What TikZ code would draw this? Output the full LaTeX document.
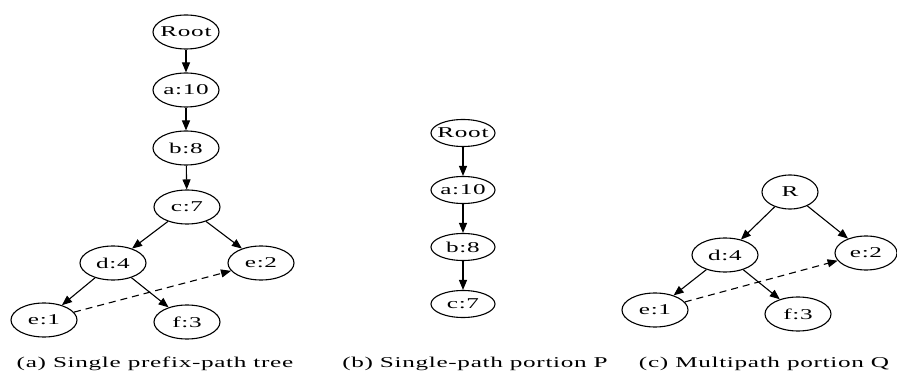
\documentclass[tikz,border=0pt]{standalone}
\usepackage{fontspec}
\setmainfont{Liberation Serif}
\newfontfamily\wideserif[FakeStretch=1.68,LetterSpace=4.5]{Liberation Serif}
\usetikzlibrary{arrows.meta,shapes.geometric}

\tikzset{
  fp_node/.style={draw, ellipse, line width=1.1pt, minimum width=66pt, minimum height=34pt,
      inner xsep=-16pt, inner ysep=0pt, font=\wideserif\fontsize{15}{15}\selectfont},
  fp_flat/.style={fp_node, minimum width=64pt, minimum height=27pt},
  fp_edge/.style={line width=1.1pt, -{Triangle[length=10pt,width=8pt]}},
  fp_link/.style={fp_edge, dash pattern=on 7pt off 5pt},
  fp_caption/.style={anchor=base, inner sep=0pt, font=\wideserif\fontsize{15}{15}\selectfont}
}

\begin{document}
\begin{tikzpicture}[x=1pt,y=-1pt]
  \useasboundingbox (0,0) rectangle (897,371);
  % (a) single prefix-path tree
  \node[fp_node] (ta_root) at (186,32) {Root};
  \node[fp_node] (ta_a) at (186,90) {a:10};
  \node[fp_node] (ta_b) at (186,148) {b:8};
  \node[fp_node] (ta_c) at (187,207) {c:7};
  \node[fp_node] (ta_d) at (113,263) {d:4};
  \node[fp_node] (ta_e2) at (261,263) {e:2};
  \node[fp_node] (ta_e1) at (44,320) {e:1};
  \node[fp_node] (ta_f) at (187,322) {f:3};
  \foreach \u/\v in {ta_root/ta_a, ta_a/ta_b, ta_b/ta_c, ta_c/ta_d,
                     ta_c/ta_e2, ta_d/ta_e1, ta_d/ta_f}
    \draw[fp_edge] (\u) -- (\v);
  \draw[fp_link] (ta_e1) -- (ta_e2);
  \node[fp_caption] (cap_a) at (155,367) {(a) Single prefix-path tree};

  % (b) single-path portion P
  \node[fp_flat] (tb_root) at (463,133) {Root};
  \node[fp_flat] (tb_a) at (463,190) {a:10};
  \node[fp_flat] (tb_b) at (463,247) {b:8};
  \node[fp_flat] (tb_c) at (463,304) {c:7};
  \foreach \u/\v in {tb_root/tb_a, tb_a/tb_b, tb_b/tb_c}
    \draw[fp_edge] (\u) -- (\v);
  \node[fp_caption] (cap_b) at (475,367) {(b) Single-path portion P};

  % (c) multipath portion Q
  \node[fp_node, minimum width=56pt] (tc_r) at (790,192) {R};
  \node[fp_node] (tc_d) at (725,255) {d:4};
  \node[fp_node, minimum width=62pt] (tc_e2) at (866,253) {e:2};
  \node[fp_node] (tc_e1) at (655,310) {e:1};
  \node[fp_node] (tc_f) at (798,314) {f:3};
  \foreach \u/\v in {tc_r/tc_d, tc_r/tc_e2, tc_d/tc_e1, tc_d/tc_f}
    \draw[fp_edge] (\u) -- (\v);
  \draw[fp_link] (tc_e1) -- (tc_e2);
  \node[fp_caption] (cap_c) at (764,367) {(c) Multipath portion Q};
\end{tikzpicture}
\end{document}
